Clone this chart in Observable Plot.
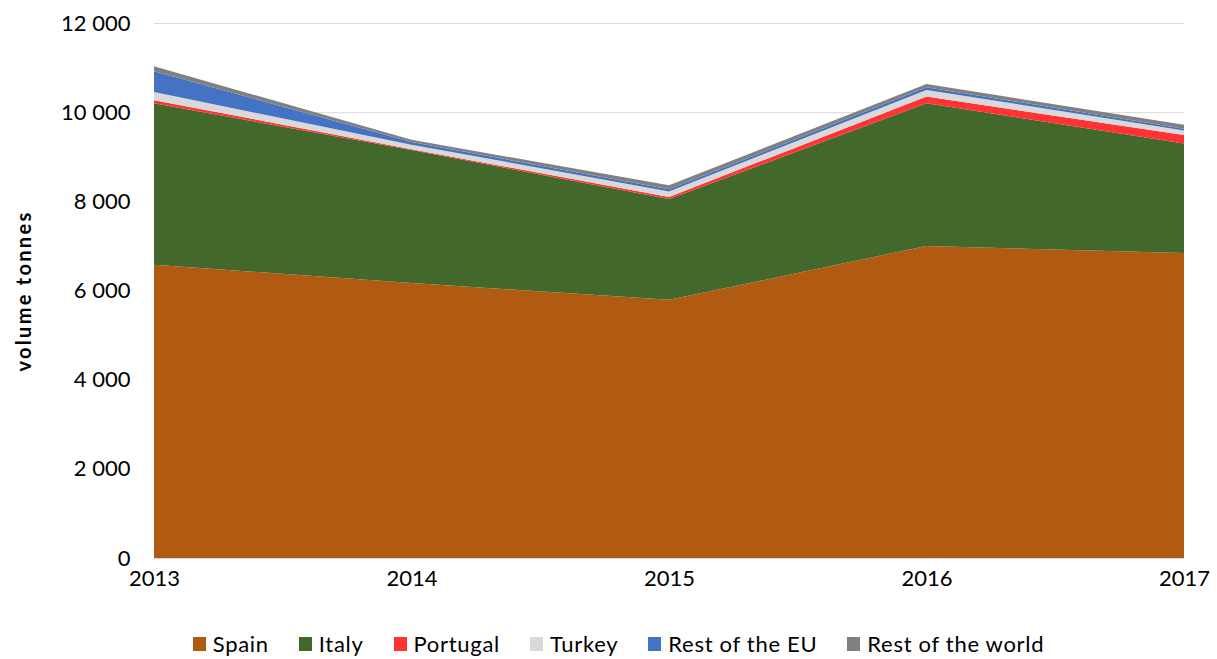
<!DOCTYPE html>
<html>
<head>
<meta charset="utf-8">
<script src="https://cdn.jsdelivr.net/npm/d3@7"></script>
<script src="https://cdn.jsdelivr.net/npm/@observablehq/plot@0.6"></script>
<style>
  body { margin: 0; background: #fff; font-family: Lato, "Open Sans", sans-serif; }
  #legend { display: flex; justify-content: center; align-items: center; margin-top: 20px; padding-left: 20px; font-size: 22px; letter-spacing: 0.7px; color: #000; }
  .item { display: flex; align-items: center; margin: 0 15px; }
  .sw { width: 13px; height: 14px; margin-right: 7px; }
</style>
</head>
<body>
<div id="chart"></div>
<div id="legend"></div>
<script>
const years = [2013, 2014, 2015, 2016, 2017];
const series = ["Spain", "Italy", "Portugal", "Turkey", "Rest of the EU", "Rest of the world"];
const colors = ["#B05A12", "#43682B", "#FF3333", "#D9D9D9", "#4472C4", "#808080"];
const spain = [6580, 6170, 5790, 7000, 6840];
const italy = [3620, 2980, 2260, 3200, 2460];
const portugal = [70, 20, 50, 150, 190];
const turkey = [180, 100, 120, 150, 100];
const restEU = [470, 60, 50, 60, 40];
const restWorld = [110, 50, 90, 70, 90];
const yTicks = [0, 2000, 4000, 6000, 8000, 10000, 12000];
const yTitle = "volume tonnes";

const values = [spain, italy, portugal, turkey, restEU, restWorld];
const data = [];
series.forEach((s, i) => years.forEach((y, j) => data.push({series: s, year: y, value: values[i][j]})));

const fmt = d3.formatLocale({thousands: "\u00a0", grouping: [3], decimal: "."}).format(",");

const plot = Plot.plot({
  width: 1217,
  height: 610,
  marginLeft: 154,
  marginRight: 33,
  marginTop: 23,
  marginBottom: 52,
  style: {fontFamily: "Lato, 'Open Sans', sans-serif", fontSize: "22px", color: "#000", background: "#fff"},
  x: {domain: [2013, 2017]},
  y: {domain: [0, 12000]},
  color: {domain: series, range: colors},
  marks: [
    Plot.gridY(yTicks, {stroke: "#D9D9D9", strokeOpacity: 1, strokeWidth: 1}),
    Plot.areaY(data, {x: "year", y: "value", z: "series", fill: "series", order: series}),
    Plot.axisY({ticks: yTicks, tickSize: 0, tickPadding: 24, tickFormat: fmt, label: null, fontSize: 22}),
    Plot.axisX({ticks: years, tickSize: 0, tickPadding: 12, tickFormat: d => String(d), label: null, fontSize: 22}),
    Plot.text([yTitle], {frameAnchor: "left", textAnchor: "middle", rotate: -90, dx: -130, fontWeight: "bold", fontSize: 20, text: d => d})
  ]
});
plot.querySelectorAll("text").forEach(t => { if (t.textContent === yTitle) t.setAttribute("letter-spacing", "2.3"); });
document.getElementById("chart").appendChild(plot);

const legend = document.getElementById("legend");
series.forEach((s, i) => {
  const item = document.createElement("div");
  item.className = "item";
  const sw = document.createElement("div");
  sw.className = "sw";
  sw.style.background = colors[i];
  const t = document.createElement("span");
  t.textContent = s;
  item.appendChild(sw);
  item.appendChild(t);
  legend.appendChild(item);
});
</script>
</body>
</html>
